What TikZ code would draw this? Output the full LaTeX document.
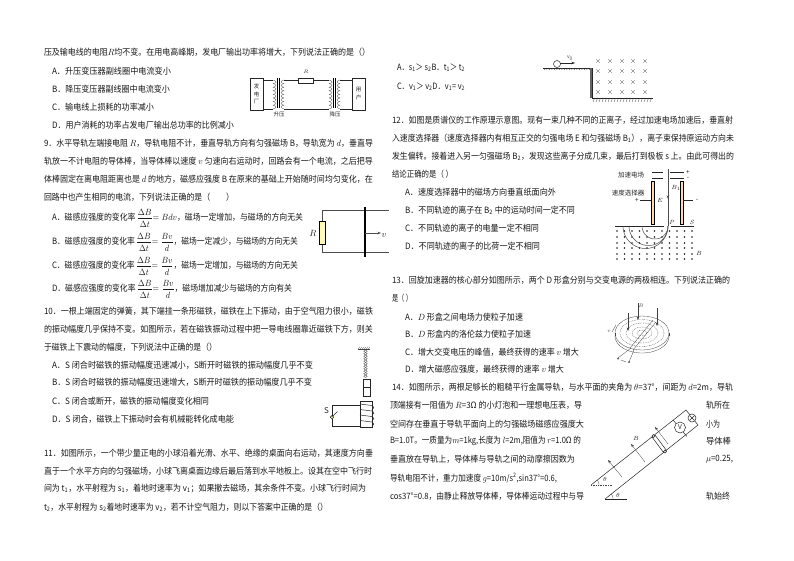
\documentclass[tikz,border=0pt]{standalone}
\usepackage{fontspec}
\usepackage{graphicx}
\setmainfont{Noto Sans CJK SC}
\usetikzlibrary{arrows.meta}
\newcounter{tln}
\newcommand\TL[4]{\stepcounter{tln}\node[txt] (t\arabic{tln}) at (#1,#2) {\resizebox{\dimexpr#3pt-#1pt\relax}{\height}{#4}};}
\newcommand\LB[4][lab]{\stepcounter{tln}\node[#1] (t\arabic{tln}) at (#2,#3) {#4};}
\newcommand\FR[2]{$\displaystyle\frac{#1}{#2}$}
\newcommand\DBT{\FR{\Delta B}{\Delta t}}
\newcommand\BVD{$=\displaystyle\frac{Bv}{d}$}
\newcommand\SB[1]{\textsubscript{#1}}
\tikzset{
 txt/.style={anchor=west,inner sep=0pt,outer sep=0pt,font=\fontsize{8.7pt}{10pt}\selectfont,text=black!90},
 lab/.style={inner sep=0pt,outer sep=0pt,font=\fontsize{6.5pt}{7pt}\selectfont,text=black!85},
 small/.style={inner sep=0pt,outer sep=0pt,font=\fontsize{5.5pt}{6pt}\selectfont,text=black!85},
 tiny/.style={inner sep=0pt,outer sep=0pt,font=\fontsize{4pt}{5pt}\selectfont,text=black!70},
 wire/.style={line width=.5pt,draw=black!85},
 thinw/.style={line width=.3pt,draw=black!75},
 dotw/.style={line width=.3pt,draw=black!75,dash pattern=on .8pt off .9pt},
 arr/.style={-{Stealth[length=3.5pt,width=2.5pt]}},
}
\begin{document}
\begin{tikzpicture}[x=1pt,y=-1pt]
\useasboundingbox (0,0) rectangle (794,560);
\fill[white] (0,0) rectangle (794,560);
% --- left column text
\TL{44}{52.7}{370}{压及输电线的电阻$R$均不变。在用电高峰期，发电厂输出功率将增大，下列说法正确的是（）}
\TL{52}{71}{171}{A．升压变压器副线圈中电流变小}
\TL{52}{89}{170}{B．降压变压器副线圈中电流变小}
\TL{52}{107}{154}{C．输电线上损耗的功率减小}
\TL{52}{125}{234}{D．用户消耗的功率占发电厂输出总功率的比例减小}
\TL{44}{143}{373}{9．水平导轨左端接电阻 $R$，导轨电阻不计，垂直导轨方向有匀强磁场 B，导轨宽为 $d$，垂直导}
\TL{44}{161}{373}{轨放一不计电阻的导体棒，当导体棒以速度 $v$ 匀速向右运动时，回路会有一个电流，之后把导}
\TL{44}{179}{373}{体棒固定在离电阻距离也是 $d$ 的地方，磁感应强度 B 在原来的基础上开始随时间均匀变化，在}
\TL{44}{197}{234}{回路中也产生相同的电流，下列说法正确的是（\quad\quad）}
\TL{52}{218}{303}{A．磁感应强度的变化率\,\DBT$=Bdv$，磁场一定增加，与磁场的方向无关}
\TL{52}{242}{298}{B．磁感应强度的变化率\,\DBT\BVD，磁场一定减少，与磁场的方向无关}
\TL{52}{266}{298}{C．磁感应强度的变化率\,\DBT\BVD，磁场一定增加，与磁场的方向无关}
\TL{52}{289}{292}{D．磁感应强度的变化率\,\DBT\BVD，磁场增加减少与磁场的方向有关}
\TL{44}{311}{373}{10．一根上端固定的弹簧，其下端挂一条形磁铁，磁铁在上下振动，由于空气阻力很小，磁铁}
\TL{44}{329}{373}{的振动幅度几乎保持不变。如图所示，若在磁铁振动过程中把一导电线圈靠近磁铁下方，则关}
\TL{44}{347}{217}{于磁铁上下震动的幅度，下列说法中正确的是（）}
\TL{52}{365}{313}{A．S 闭合时磁铁的振动幅度迅速减小，S断开时磁铁的振动幅度几乎不变}
\TL{52}{382}{312}{B．S 闭合时磁铁的振动幅度迅速增大，S断开时磁铁的振动幅度几乎不变}
\TL{52}{401}{209}{C．S 闭合或断开，磁铁的振动幅度变化相同}
\TL{52}{419}{234}{D．S 闭合，磁铁上下振动时会有机械能转化成电能}
\TL{44}{453}{373}{11．如图所示，一个带少量正电的小球沿着光滑、水平、绝缘的桌面向右运动，其速度方向垂}
\TL{44}{471}{372}{直于一个水平方向的匀强磁场，小球飞离桌面边缘后最后落到水平地板上。设其在空中飞行时}
\TL{44}{488}{366}{间为 t\SB{1}，水平射程为 s\SB{1}，着地时速率为 v\SB{1}；如果撤去磁场，其余条件不变。小球飞行时间为}
\TL{44}{507}{328}{t\SB{2}，水平射程为 s\SB{2}着地时速率为 v\SB{2}，若不计空气阻力，则以下答案中正确的是（）}
% --- right column text
\TL{397}{68}{465}{A．s\SB{1}＞ s\SB{2}B．t\SB{1}＞ t\SB{2}}
\TL{397}{87}{465}{C．v\SB{1}＞ v\SB{2}D．v\SB{1}= v\SB{2}}
\TL{392}{120}{733}{12．如图是质谱仪的工作原理示意图。现有一束几种不同的正离子，经过加速电场加速后，垂直射}
\TL{392}{138}{734}{入速度选择器（速度选择器内有相互正交的匀强电场 E 和匀强磁场 B\SB{1}），离子束保持原运动方向未}
\TL{392}{156}{734}{发生偏转。接着进入另一匀强磁场 B\SB{2}，发现这些离子分成几束，最后打到极板 s 上。由此可得出的}
\TL{392}{174}{453}{结论正确的是（ ）}
\TL{405}{192}{556}{A．速度选择器中的磁场方向垂直纸面向外}
\TL{405}{210}{575}{B．不同轨迹的离子在 B\SB{2} 中的运动时间一定不同}
\TL{405}{228}{539}{C．不同轨迹的离子的电量一定不相同}
\TL{405}{246}{540}{D．不同轨迹的离子的比荷一定不相同}
\TL{392}{280}{730}{13．回旋加速器的核心部分如图所示，两个 D 形盒分别与交变电源的两极相连。下列说法正确的}
\TL{392}{298}{412}{是（ ）}
\TL{405}{317}{523}{A．$D$ 形盒之间电场力使粒子加速}
\TL{405}{334}{531}{B．$D$ 形盒内的洛伦兹力使粒子加速}
\TL{405}{352}{579}{C．增大交变电压的峰值，最终获得的速率 $v$ 增大}
\TL{405}{369}{564}{D．增大磁感应强度，最终获得的速率 $v$ 增大}
\TL{392}{387}{733}{14．如图所示，两根足够长的粗糙平行金属导轨，与水平面的夹角为 $\theta$=37°，间距为 $d$=2m，导轨}
\TL{390}{405}{582}{顶端接有一阻值为 $R$=3Ω 的小灯泡和一理想电压表，导}
\TL{390}{424}{584}{空间存在垂直于导轨平面向上的匀强磁场磁感应强度大}
\TL{390}{441}{581}{B=1.0T。一质量为$m$=1kg,长度为 $l$=2m,阻值为 $r$=1.0Ω 的}
\TL{390}{459}{575}{垂直放在导轨上，导体棒与导轨之间的动摩擦因数为}
\TL{390}{478}{557}{导轨电阻不计，重力加速度 $g$=10m/s\textsuperscript{2},sin37°=0.6,}
\TL{390}{496}{584}{cos37°=0.8，由静止释放导体棒，导体棒运动过程中与导}
\TL{706}{405}{730}{轨所在}
\TL{706}{424}{720}{小为}
\TL{706}{441}{731}{导体棒}
\TL{706}{459}{733}{$\mu$=0.25,}
\TL{706}{496}{730}{轨始终}
% --- transformer
\draw[wire] (250,78) rectangle (263,110);
\draw[wire] (352,78) rectangle (365,110);
\LB[small]{256.5}{94}{\shortstack{发\\电\\厂}}
\LB[small]{358.5}{94}{\shortstack{用\\户}}
\LB[small]{306}{72}{$R$}
\LB[small]{279}{114.5}{升压}
\LB[small]{335}{114.5}{降压}
\draw[wire] (263,80) -- (273,80) (263,109) -- (273,109);
\draw[wire] (284,80) -- (298,80) (313,80) -- (329,80);
\draw[wire] (284,109) -- (329,109);
\draw[wire] (340,80) -- (352,80) (340,109) -- (352,109);
\draw[wire,fill=white] (298,78) rectangle (313,83);
\draw[line width=.7pt] (277.5,78) -- (277.5,108) (279.5,78) -- (279.5,108);
\draw[line width=.7pt] (333,78) -- (333,108) (335,78) -- (335,108);
\foreach \yy in {80,83.6,...,106} {
  \draw[thinw] (273,\yy) .. controls (276.5,\yy) and (276.5,\yy+3.6) .. (273,\yy+3.6);
  \draw[thinw] (284,\yy) .. controls (280.5,\yy) and (280.5,\yy+3.6) .. (284,\yy+3.6);
  \draw[thinw] (329,\yy) .. controls (332.5,\yy) and (332.5,\yy+3.6) .. (329,\yy+3.6);
  \draw[thinw] (340,\yy) .. controls (336.5,\yy) and (336.5,\yy+3.6) .. (340,\yy+3.6);
}
% --- R circuit
\draw[line width=.7pt,draw=black!70] (389,210.5) -- (322,210.5) -- (322,252) -- (389,252);
\draw[line width=.5pt,fill=yellow!30!white] (319,221) rectangle (325,244);
\draw[line width=1.2pt] (365,207) -- (365,257);
\draw[line width=.7pt,draw=black!70,arr] (365,233) -- (381,233);
\LB[lab]{313}{233}{\fontsize{9pt}{10pt}\selectfont$R$}
\LB[lab]{384}{236}{\fontsize{9pt}{10pt}\selectfont$v$}
% --- spring and coil
\draw[thinw] (358,349) -- (370,349);
\foreach \xx in {358,360,...,368} \draw[thinw] (\xx+2,347) -- (\xx,349);
\foreach \yy in {350,352.5,...,376} \draw[thinw] (365.5,\yy+1.25) ellipse [x radius=1.8pt,y radius=1.3pt];
\draw[wire] (363.5,379) rectangle (370,396) (363.5,387.5) -- (370,387.5);
\draw[wire] (360,401) rectangle (372,427);
\foreach \yy in {404,409.5,415,420.5} {
  \draw[wire] (360,\yy) -- (372,\yy+1.5);
  \draw[wire] (372,\yy+1.5) .. controls (374.5,\yy+2) and (374.5,\yy+5) .. (372,\yy+5.5);
}
\draw[wire] (360,405) -- (332,405) -- (332,415.5);
\draw[wire] (332,419) -- (332,426) -- (360,426);
\draw[wire] (332.5,416.5) -- (337.5,411.5);
\draw[line width=.4pt,fill=yellow!40!white] (332,417.2) circle [radius=1.7pt];
\LB[lab]{326.5}{411}{\fontsize{8pt}{9pt}\selectfont S}
% --- ball and table
\draw[wire] (543,68) -- (592,68);
\foreach \xx in {544,546.5,...,590} \draw[thinw] (\xx+1.5,68) -- (\xx,70);
\draw[line width=1.6pt,draw=black!60] (591,68) -- (591,98);
\draw[wire] (592,68) -- (592,98) -- (653,98);
\foreach \xx in {593,596,...,651} \draw[thinw] (\xx+1.5,98) -- (\xx,102);
\draw[wire,fill=white] (557,64) circle [radius=3.5pt];
\draw[wire,arr] (560,63) -- (575,63);
\LB[tiny]{570}{58}{\fontsize{5pt}{6pt}\selectfont v\SB{0}}
\foreach \xx in {598,610,622,633,645} \foreach \yy in {61,71,82,92} {
  \draw[thinw] (\xx-1.7,\yy-1.7) -- (\xx+1.7,\yy+1.7) (\xx-1.7,\yy+1.7) -- (\xx+1.7,\yy-1.7);
}
% --- mass spectrometer
\LB{631}{175}{加速电场}
\LB{628}{193}{速度选择器}
\draw[wire] (652,172) -- (663,172) (652,178) -- (663,178) (670,172) -- (684,172) (670,178) -- (684,178);
\LB{688}{172}{+}
\LB{688}{178}{-}
\draw[line width=.4pt,fill=orange!30!white] (651,181) rectangle (654,224);
\draw[line width=.4pt,fill=orange!30!white] (680,181) rectangle (683,224);
\draw[wire] (640,200) -- (651,200) (683,200) -- (693,200);
\LB{637}{200}{+}
\LB{697}{200}{-}
\LB[lab]{660}{200}{$E$}
\LB[lab]{676}{188}{$B_1$}
\LB[lab]{672}{222}{$P$}
\LB[lab]{692}{222}{$S$}
\draw[wire] (615,226) -- (664,226) (671,226) -- (694,226);
\foreach \yy in {231,237,243,248,254,259} \foreach \xx in {617,624.5,...,692} \fill[black!90] (\xx,\yy) circle [radius=.85pt];
\draw[line width=.6pt,draw=black!70] (668,169) -- (668,226);
\draw[line width=.5pt,draw=black!70,arr] (668,190) -- (668,199);
\draw[line width=.5pt,draw=black!70] plot[domain=0:180,samples=30] ({668-22.5+22.5*cos(\x)},{226+22.5*sin(\x)});
\draw[line width=.5pt,draw=black!70] plot[domain=0:180,samples=30] ({668-19.5+19.5*cos(\x)},{226+19.5*sin(\x)});
\draw[line width=.5pt,draw=black!70] plot[domain=0:180,samples=30] ({668-13+13*cos(\x)},{226+13*sin(\x)});
\LB[lab]{699}{253}{$B$}
% --- cyclotron
\draw[thinw] (615,336) -- (615,333) (669,336) -- (669,333);
\draw[thinw] plot[domain=0:180,samples=30] ({642+27*cos(\x)},{336+17*sin(\x)});
\draw[thinw] (642,333) ellipse [x radius=27pt,y radius=17pt];
\draw[dotw] (642,333) ellipse [x radius=22pt,y radius=13.5pt];
\draw[dotw] (642,333) ellipse [x radius=16pt,y radius=10pt];
\draw[dotw] (642,333) ellipse [x radius=10pt,y radius=6pt];
\draw[dotw] (642,333) ellipse [x radius=5pt,y radius=3pt];
\draw[thinw] (630,348) -- (653,320) (633,350) -- (656,322);
\draw[thinw,arr] (638,303) -- (638,320);
\draw[thinw,arr] (657,308) -- (657,326);
\draw[thinw,arr] (628,313) -- (628,331);
\LB[tiny]{641}{305.5}{$B$}
\draw[thinw] (631,348) -- (618,358) (634,350) -- (629,362);
\draw[thinw] (618,358.5) circle [radius=.8pt] (629,362) circle [radius=.8pt];
\draw[thinw] (621,360) -- (626,362);
\LB[tiny]{609}{331}{$v$}
\draw[thinw] (612,332) -- (616,325);
% --- incline
\draw[wire] (591,485) -- (686,410) -- (698,425) -- (605,499);
\draw[wire] (605,499) -- (627,499);
\draw[dotw] (591,485) -- (613,485);
\draw[thinw] plot[domain=0:38,samples=8] ({591+8*cos(\x)},{485-8*sin(\x)});
\draw[thinw] plot[domain=0:38,samples=8] ({605+8*cos(\x)},{499-8*sin(\x)});
\draw[wire] (673,420) -- (687,436.5);
\draw[wire,fill=white] (680,427.5) circle [radius=5.5pt];
\LB[lab]{680}{427.5}{V}
\draw[wire,fill=white] (692,418) circle [radius=4pt];
\draw[wire] (689.5,415.5) -- (694.5,420.5) (689.5,420.5) -- (694.5,415.5);
\draw[wire] (652,437) -- (663.5,452.5) (655,435) -- (666.5,450.5);
\draw[wire,fill=white] (653.5,436) circle [radius=1.5pt];
\draw[wire,fill=white] (665,451.5) circle [radius=1.5pt];
\draw[thinw,arr] (622,477) -- (608,460);
\draw[thinw,arr] (645,462) -- (631,444);
\draw[thinw,arr] (668,444) -- (655,427);
\LB[lab]{636}{438}{$B$}
\LB[lab]{605}{479.5}{$\theta$}
\LB[lab]{618}{495}{$\theta$}
\end{tikzpicture}
\end{document}
